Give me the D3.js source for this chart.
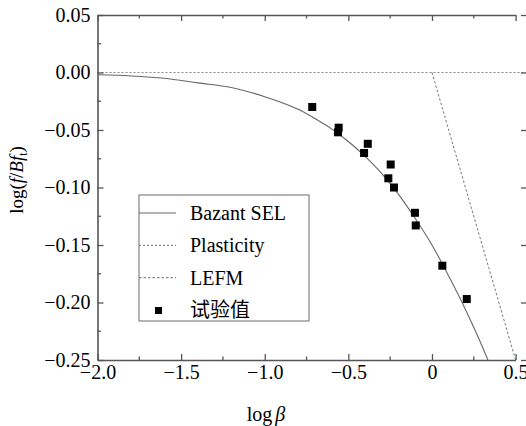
<!DOCTYPE html>
<html>
<head>
<meta charset="UTF-8">
<script src="https://cdnjs.cloudflare.com/ajax/libs/d3/7.8.5/d3.min.js"></script>
<style>
html, body { margin: 0; padding: 0; background: #fff; }
svg { display: block; }
svg text { font-family: "Liberation Serif", "Times New Roman", "DejaVu Serif", serif; }
svg text.cjk { font-family: "Noto Sans CJK SC", sans-serif; }
</style>
</head>
<body>
<script>
// test points (log beta, log(f/Bf_t))
var testX = [-0.716, -0.558, -0.562, -0.384, -0.406, -0.247, -0.261, -0.227, -0.102, -0.097, 0.062, 0.208];
var testY = [-0.030, -0.048, -0.052, -0.062, -0.070, -0.080, -0.092, -0.100, -0.122, -0.133, -0.168, -0.197];

// Bazant SEL curve, read at these x positions
var selX = [-2.0, -1.8, -1.6, -1.4, -1.2, -1.0, -0.9, -0.8, -0.7, -0.6, -0.5, -0.4, -0.3, -0.2, -0.1, 0.0, 0.1, 0.2, 0.3, 0.34];
var selY = [-0.002, -0.003, -0.005, -0.009, -0.013, -0.021, -0.026, -0.032, -0.040, -0.049, -0.060, -0.073, -0.088, -0.106, -0.127, -0.150, -0.177, -0.206, -0.238, -0.252];

// plasticity and LEFM lines
var plastX = [-2.0, 0.6];
var plastY = [0.0, 0.0];
var lefmX = [0.0, 0.52];
var lefmY = [0.0, -0.26];

var xTicks = [-2.0, -1.5, -1.0, -0.5, 0, 0.5];
var xTickLabels = ["\u22122.0", "\u22121.5", "\u22121.0", "\u22120.5", "0", "0.5"];
var yTicks = [0.05, 0.00, -0.05, -0.10, -0.15, -0.20, -0.25];
var yTickLabels = ["0.05", "0.00", "\u22120.05", "\u22120.10", "\u22120.15", "\u22120.20", "\u22120.25"];

var legendNames = ["Bazant SEL", "Plasticity", "LEFM", "试验值"];

var width = 526, height = 426;
var m = {left: 97.5, right: 527, top: 15, bottom: 360};

var svg = d3.select("body").append("svg")
    .attr("width", width)
    .attr("height", height);

var x = d3.scaleLinear().domain([-2.0, 0.5]).range([m.left, 515.6]);
var y = d3.scaleLinear().domain([-0.25, 0.05]).range([m.bottom, m.top]);

svg.append("clipPath").attr("id", "clip")
  .append("rect")
    .attr("x", m.left).attr("y", m.top)
    .attr("width", m.right - m.left).attr("height", m.bottom - m.top);

var plot = svg.append("g").attr("clip-path", "url(#clip)");

var line = d3.line()
    .x(function (d) { return x(d[0]); })
    .y(function (d) { return y(d[1]); });

plot.append("path")
    .datum(d3.zip(plastX, plastY))
    .attr("d", line)
    .attr("fill", "none")
    .attr("stroke", "#888")
    .attr("stroke-width", 1)
    .attr("stroke-dasharray", "2,2");

plot.append("path")
    .datum(d3.zip(lefmX, lefmY))
    .attr("d", line)
    .attr("fill", "none")
    .attr("stroke", "#777")
    .attr("stroke-width", 1)
    .attr("stroke-dasharray", "2.5,2");

plot.append("path")
    .datum(d3.zip(selX, selY))
    .attr("d", line.curve(d3.curveMonotoneX))
    .attr("fill", "none")
    .attr("stroke", "#666")
    .attr("stroke-width", 1.1);

plot.selectAll("rect.pt")
    .data(d3.zip(testX, testY))
    .enter()
    .append("rect")
    .attr("class", "pt")
    .attr("x", function (d) { return x(d[0]) - 4; })
    .attr("y", function (d) { return y(d[1]) - 4; })
    .attr("width", 8)
    .attr("height", 8)
    .attr("fill", "#000");

// frame with inward ticks
var axisColor = "#555";
function styleAxis(g) {
  g.attr("font-family", null).attr("font-size", null);
  g.select(".domain").attr("stroke", axisColor).attr("stroke-width", 1.6);
  g.selectAll(".tick line").attr("stroke", axisColor).attr("stroke-width", 1.3);
  g.selectAll("text").style("font-size", "20px").attr("fill", "#000");
}

var xMinor = d3.range(-1.75, 0.6, 0.5);
var yMinor = d3.range(-0.225, 0.05, 0.05);

var gx = svg.append("g").attr("transform", "translate(0," + m.bottom + ")")
  .call(d3.axisBottom(x).tickValues(xTicks).tickSizeInner(-6).tickSizeOuter(0)
    .tickFormat(function (d, i) { return xTickLabels[i]; }));
styleAxis(gx);
gx.selectAll("text").attr("dy", "0.71em").attr("y", 5);
gx.append("g").selectAll("line").data(xMinor).enter().append("line")
  .attr("x1", x).attr("x2", x).attr("y1", 0).attr("y2", -3.5)
  .attr("stroke", axisColor).attr("stroke-width", 1.3);

var gxt = svg.append("g").attr("transform", "translate(0," + m.top + ")")
  .call(d3.axisTop(x).tickValues(xTicks).tickSizeInner(-6).tickSizeOuter(0).tickFormat(""));
styleAxis(gxt);
gxt.append("g").selectAll("line").data(xMinor).enter().append("line")
  .attr("x1", x).attr("x2", x).attr("y1", 0).attr("y2", 3.5)
  .attr("stroke", axisColor).attr("stroke-width", 1.3);

var gy = svg.append("g").attr("transform", "translate(" + m.left + ",0)")
  .call(d3.axisLeft(y).tickValues(yTicks).tickSizeInner(-6).tickSizeOuter(0)
    .tickFormat(function (d, i) { return yTickLabels[i]; }));
styleAxis(gy);
gy.selectAll("text").attr("x", -7);
gy.append("g").selectAll("line").data(yMinor).enter().append("line")
  .attr("y1", y).attr("y2", y).attr("x1", 0).attr("x2", 3.5)
  .attr("stroke", axisColor).attr("stroke-width", 1.3);

var gyr = svg.append("g").attr("transform", "translate(" + m.right + ",0)")
  .call(d3.axisRight(y).tickValues(yTicks).tickSizeInner(-6).tickSizeOuter(0).tickFormat(""));
styleAxis(gyr);

// axis titles
svg.append("text")
    .attr("x", 266).attr("y", 421)
    .attr("text-anchor", "middle")
    .style("font-size", "20px")
    .html("log<tspan font-style='italic' dx='3'>β</tspan>");

svg.append("text")
    .attr("transform", "translate(23,180) rotate(-90)")
    .attr("text-anchor", "middle")
    .style("font-size", "19px")
    .html("log(<tspan font-style='italic'>f</tspan>/<tspan font-style='italic'>Bf</tspan><tspan style='font-size:12px' dy='4'>t</tspan><tspan dy='-4'>)</tspan>");

// legend
var lg = svg.append("g");
lg.append("rect")
    .attr("x", 139).attr("y", 195)
    .attr("width", 170).attr("height", 126)
    .attr("fill", "#fff")
    .attr("stroke", "#777")
    .attr("stroke-width", 1.1);

var legY = d3.scalePoint().domain(legendNames).range([213, 310]);
var dashes = [null, "2,2", "2.5,2"];
legendNames.forEach(function (name, i) {
  var yy = legY(name);
  if (i < 3) {
    lg.append("line")
      .attr("x1", 139).attr("x2", 176).attr("y1", yy).attr("y2", yy)
      .attr("stroke", i === 0 ? "#666" : "#888")
      .attr("stroke-width", 1.1)
      .attr("stroke-dasharray", dashes[i]);
  } else {
    lg.append("rect")
      .attr("x", 155).attr("y", yy - 3).attr("width", 7).attr("height", 7)
      .attr("fill", "#000");
  }
  lg.append("text")
    .attr("class", i === 3 ? "cjk" : null)
    .attr("x", 190).attr("y", yy)
    .attr("dy", "0.35em")
    .style("font-size", "20px")
    .text(name);
});
</script>
</body>
</html>
